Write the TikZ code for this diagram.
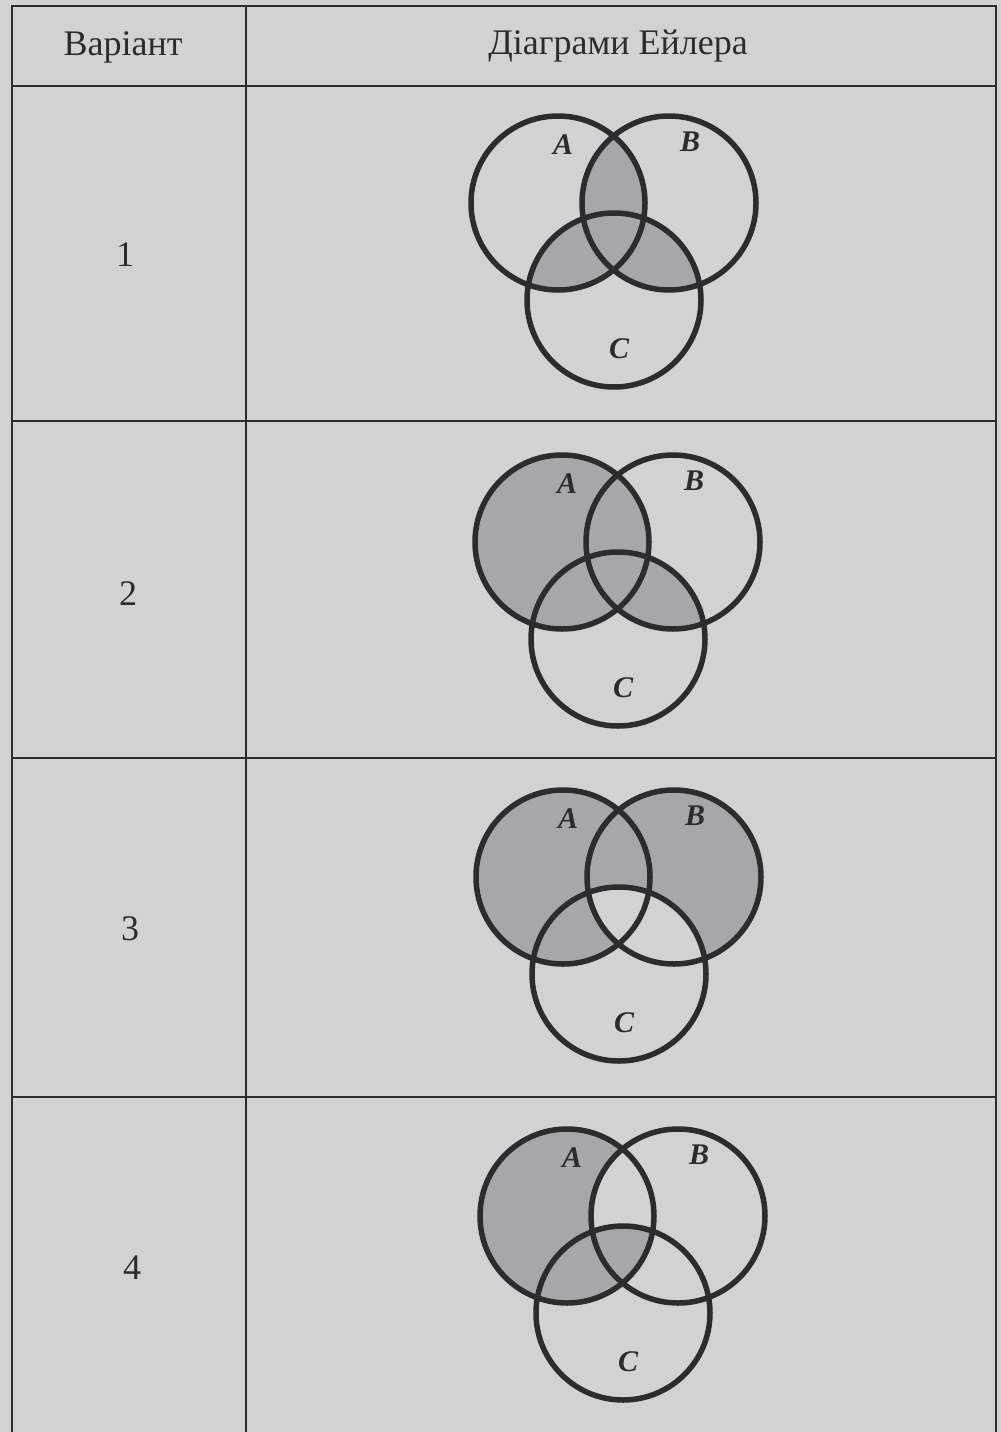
\documentclass[tikz,border=0pt]{standalone}
\usepackage{fontspec}
\setmainfont{Liberation Serif}
\usetikzlibrary{calc}
\definecolor{paper}{RGB}{208,211,210}
\definecolor{tint}{RGB}{166,167,169}
\definecolor{ink}{RGB}{44,44,46}
\def\vr{87pt}

\begin{document}
\begin{tikzpicture}[x=1pt,y=-1pt,
		cell/.style = {font=\fontsize{36}{40}\selectfont, text=ink},
		setlbl/.style = {font=\fontsize{30}{32}\selectfont\bfseries\itshape, text=ink},
		ring/.style = {draw=ink, line width=5.5pt},
		rule/.style = {draw=ink, line width=2pt}
		]
		\useasboundingbox (0,0) rectangle (1001,1432);
		\fill[paper] (0,0) rectangle (1001,1432);
		% table frame
		\draw[rule] (12,1432) -- (12,6) -- (996,6) -- (996,1432);
		\draw[rule] (246,6) -- (246,1432);
		\foreach \y in {86,421,758,1097}
		\draw[rule] (12,\y) -- (996,\y);
		% header
		\node (hv) [cell] at (123,47) {Варіант};
		\node (hd) [cell] at (618,46) {Діаграми Ейлера};
		% row numbers and centres of A, B, C
		\foreach \i/\nx/\ax/\ay in {1/125/558/203, 2/128/562/542, 3/130/563/877, 4/132/567/1216} {
			\node (n\i) [cell] at (\nx,\ay+52) {\i};
			\coordinate (A\i) at (\ax,\ay);
			\coordinate (B\i) at (\ax+111,\ay);
			\coordinate (C\i) at (\ax+56,\ay+97);
		}
		% 1: pairwise intersections
		\begin{scope}
			\clip (A1) circle[radius=\vr];
			\fill[tint] (B1) circle[radius=\vr];
			\fill[tint] (C1) circle[radius=\vr];
		\end{scope}
		\begin{scope}
			\clip (B1) circle[radius=\vr];
			\fill[tint] (C1) circle[radius=\vr];
		\end{scope}
		% 2: A and the part B with C
		\fill[tint] (A2) circle[radius=\vr];
		\begin{scope}
			\clip (B2) circle[radius=\vr];
			\fill[tint] (C2) circle[radius=\vr];
		\end{scope}
		% 3: A or B, without B with C
		\fill[tint] (A3) circle[radius=\vr];
		\fill[tint] (B3) circle[radius=\vr];
		\begin{scope}
			\clip (B3) circle[radius=\vr];
			\fill[paper] (C3) circle[radius=\vr];
		\end{scope}
		% 4: A without B, plus A with B with C
		\fill[tint] (A4) circle[radius=\vr];
		\begin{scope}
			\clip (A4) circle[radius=\vr];
			\fill[paper] (B4) circle[radius=\vr];
			\clip (B4) circle[radius=\vr];
			\fill[tint] (C4) circle[radius=\vr];
		\end{scope}
		% rings and labels
		\foreach \i in {1,...,4} {
			\foreach \s in {A,B,C}
			\draw[ring] (\s\i) circle[radius=\vr];
			\node (la\i) [setlbl] at ($(A\i)+(5,-58)$) {A};
			\node (lb\i) [setlbl] at ($(B\i)+(21,-61)$) {B};
			\node (lc\i) [setlbl] at ($(C\i)+(5,49)$) {C};
		}
	\end{tikzpicture}
\end{document}
